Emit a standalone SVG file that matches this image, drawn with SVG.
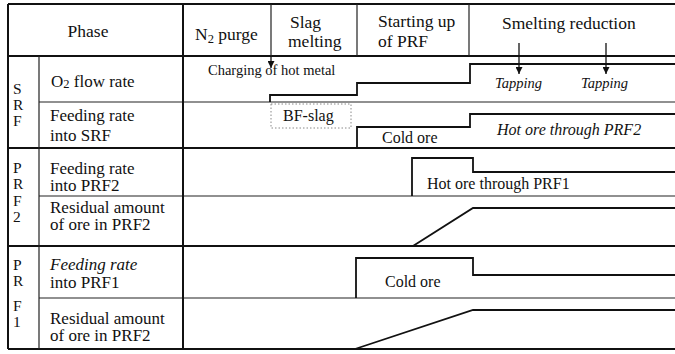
<svg xmlns="http://www.w3.org/2000/svg" width="675" height="354" viewBox="0 0 675 354" font-family="'Liberation Serif', 'DejaVu Serif', serif">
<defs>
<marker id="ah" viewBox="0 0 10 10" refX="10" refY="5" markerWidth="7" markerHeight="7" markerUnits="userSpaceOnUse" orient="auto">
<path d="M0,0 L10,5 L0,10 Z" fill="#111"/>
</marker>
</defs>
<style>
text{fill:#111}
.h{font-size:17.5px}
.l{font-size:17px}
.k{font-size:15.5px}
.s{font-size:14.5px}
.c{font-size:16px}
.i{font-style:italic}
.thick{stroke:#111;stroke-width:2;fill:none}
.thin{stroke:#222;stroke-width:1.2;fill:none}
.data{stroke:#111;stroke-width:1.8;fill:none}
.arr{stroke:#111;stroke-width:1.3;fill:none;marker-end:url(#ah)}
</style>
<rect width="675" height="354" fill="#fff"/>
<g id="grid">
<path class="thick" d="M8,4 H675 M8,56 H675 M8,148 H675 M8,246 H675 M8,349 H675"/>
<path class="thin" d="M39,102 H675 M39,196 H675 M39,298 H675"/>
<path class="thick" d="M8,4 V349 M183,4 V349"/>
<path class="thin" d="M39,56 V349 M271,4 V56 M357,4 V56 M469,4 V56"/>
</g>
<g id="header">
<text class="h" x="88" y="37" text-anchor="middle">Phase</text>
<text class="h" x="195" y="40">N<tspan font-size="12.5" dy="3">2</tspan><tspan dy="-3"> purge</tspan></text>
<text class="h" x="290" y="28">Slag</text>
<text class="h" x="288" y="47">melting</text>
<text class="h" x="378" y="27">Starting up</text>
<text class="h" x="378" y="47">of PRF</text>
<text class="h" x="502" y="29">Smelting reduction</text>
</g>
<g id="labels">
<text class="k" x="13" y="94">S</text>
<text class="k" x="13" y="110">R</text>
<text class="k" x="13" y="126">F</text>
<text class="l" x="51" y="87">O<tspan font-size="12.5" dy="1">2</tspan><tspan dy="-1"> flow rate</tspan></text>
<text class="l" x="50" y="121">Feeding rate</text>
<text class="l" x="50" y="141">into SRF</text>
<text class="k" x="13" y="173">P</text>
<text class="k" x="13" y="189">R</text>
<text class="k" x="13" y="206">F</text>
<text class="k" x="13" y="222">2</text>
<text class="l" x="50" y="174">Feeding rate</text>
<text class="l" x="50" y="191">into PRF2</text>
<text class="l" x="50" y="213">Residual amount</text>
<text class="l" x="50" y="230">of ore in PRF2</text>
<text class="k" x="13" y="270">P</text>
<text class="k" x="13" y="286">R</text>
<text class="k" x="13" y="311">F</text>
<text class="k" x="13" y="327">1</text>
<text class="l i" x="50" y="270">Feeding rate</text>
<text class="l" x="50" y="288">into PRF1</text>
<text class="l" x="50" y="324">Residual amount</text>
<text class="l" x="50" y="341">of ore in PRF2</text>
</g>
<g id="curves">
<path class="data" d="M270,102 V95 H357 V83 H470 V64 H675"/>
<path class="data" d="M357,148 V127 H470 V114 H675"/>
<path class="data" d="M412,196 V158 H473 V172 H675"/>
<path class="data" d="M413,246 L473,208 H675"/>
<path class="data" d="M356,298 V258 H473 V275 H675"/>
<path class="data" d="M355,349 L473,310 H675"/>
<rect x="271" y="104" width="80" height="24" fill="none" stroke="#888" stroke-width="1" stroke-dasharray="1.5,2"/>
</g>
<g id="connectors">
<path class="arr" d="M271,56 V68"/>
<path class="arr" d="M519,43 V74"/>
<path class="arr" d="M606,43 V74"/>
</g>
<g id="annotations">
<text class="s" x="208" y="75">Charging of hot metal</text>
<text class="s i" x="495" y="88">Tapping</text>
<text class="s i" x="581" y="88">Tapping</text>
<text class="c" x="283" y="121">BF-slag</text>
<text class="c" x="382" y="143">Cold ore</text>
<text class="c i" x="497" y="135">Hot ore through PRF2</text>
<text class="c" x="427" y="189">Hot ore through PRF1</text>
<text class="c" x="385" y="287">Cold ore</text>
</g>
</svg>
